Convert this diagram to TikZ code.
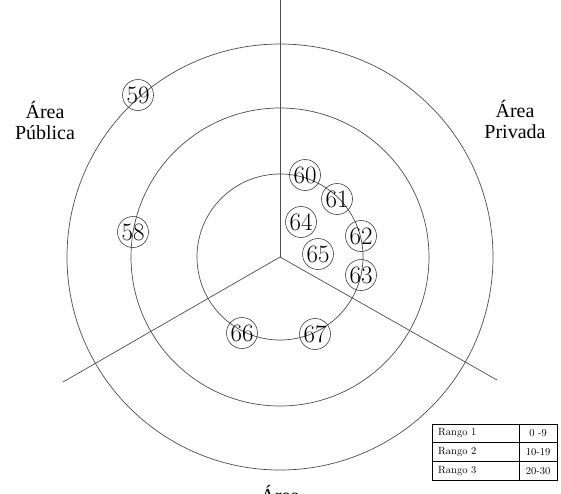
\documentclass[tikz,border=0pt]{standalone}
\usepackage{fontspec}
\newfontfamily\areafont{Liberation Serif}
\begin{document}
\begin{tikzpicture}[x=1pt,y=-1pt,
  ring/.style={draw=black!70,line width=0.7pt},
  divider/.style={draw=black!70,line width=0.7pt},
  tag/.style={circle,draw=black!75,line width=0.6pt,minimum size=31pt,inner sep=0pt,
    font=\fontsize{25}{25}\selectfont},
  arealabel/.style={align=center,font=\areafont\fontsize{20}{21}\selectfont,inner sep=0pt},
  cell/.style={font=\fontsize{10.5}{12}\selectfont,inner sep=0pt},
  grid/.style={draw=black,line width=0.5pt}]
\useasboundingbox (0,0) rectangle (561,493);
% centre of the three rings and the ends of the dividing lines
\coordinate (c) at (280,257);
\coordinate (top) at (280,0);
\coordinate (lft) at (63,382);
\coordinate (rgt) at (497,380);
% rings
\draw[ring] (c) circle[radius=213];
\draw[ring] (c) circle[radius=149];
\draw[ring] (c) circle[radius=83];
% sector dividers
\draw[divider] (c) -- (top);
\draw[divider] (c) -- (lft);
\draw[divider] (c) -- (rgt);
% sector labels
\node[arealabel,anchor=base] (pub) at (45,139) {Área\\Pública};
\node[arealabel,anchor=base] (priv) at (515,138) {Área\\Privada};
\node[arealabel,anchor=base] (bot) at (280,502) {Área};
% numbered items
\node[tag] (n59) at (138,95) {59};
\node[tag] (n58) at (133,232) {58};
\node[tag] (n60) at (305,175) {60};
\node[tag] (n61) at (337,199) {61};
\node[tag] (n64) at (301,222) {64};
\node[tag] (n62) at (361,236) {62};
\node[tag] (n65) at (318,254) {65};
\node[tag] (n63) at (361,275) {63};
\node[tag] (n66) at (242,333) {66};
\node[tag] (n67) at (315,334) {67};
% legend table
\draw[grid] (432,424) rectangle (557,480);
\draw[grid] (432,442.67) -- (557,442.67);
\draw[grid] (432,461.33) -- (557,461.33);
\draw[grid] (519,424) -- (519,480);
\node[cell,anchor=west] (r1) at (438,433.3) {Rango 1};
\node[cell,anchor=west] (r2) at (438,452) {Rango 2};
\node[cell,anchor=west] (r3) at (438,470.7) {Rango 3};
\node[cell] (v1) at (538,433.3) {0 -9};
\node[cell] (v2) at (538,452) {10-19};
\node[cell] (v3) at (538,470.7) {20-30};
\end{tikzpicture}
\end{document}
